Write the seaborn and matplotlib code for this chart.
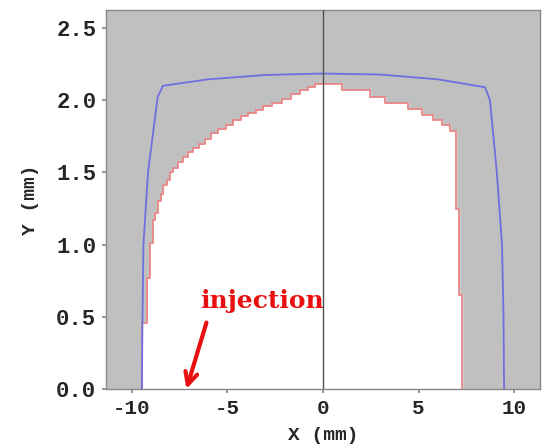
import matplotlib
matplotlib.use("Agg")
import matplotlib.pyplot as plt
import seaborn as sns
import pandas as pd

# red step boundary (left edge of each step, height)
red_x = [-9.45, -9.45, -9.22, -9.06, -8.90, -8.80, -8.65, -8.50, -8.35, -8.19,
         -8.00, -7.84, -7.60, -7.31, -7.05, -6.79, -6.50, -6.18, -5.85, -5.48,
         -5.10, -4.70, -4.30, -3.91, -3.50, -3.12, -2.65, -2.16, -1.70, -1.20,
         -0.80, -0.42, 1.00, 2.46, 3.25, 4.45, 5.17, 5.76, 6.21, 6.65,
         6.96, 7.13, 7.28]
red_y = [0.00, 0.46, 0.77, 1.01, 1.17, 1.22, 1.30, 1.35, 1.41, 1.45,
         1.50, 1.53, 1.57, 1.61, 1.64, 1.67, 1.70, 1.73, 1.77, 1.80,
         1.83, 1.86, 1.89, 1.91, 1.93, 1.96, 1.98, 2.01, 2.04, 2.07,
         2.09, 2.11, 2.07, 2.02, 1.98, 1.94, 1.90, 1.86, 1.83, 1.79,
         1.25, 0.65, 0.00]

# blue envelope
blue_x = [-9.48, -9.45, -9.40, -9.16, -8.66, -8.38, -6.0, -3.0, 0.0, 3.0, 6.0,
          8.48, 8.74, 9.10, 9.37, 9.45, 9.48]
blue_y = [0.00, 0.50, 1.00, 1.50, 2.02, 2.10, 2.145, 2.175, 2.185, 2.178, 2.145,
          2.09, 2.00, 1.50, 1.00, 0.50, 0.00]

xticks = [-10, -5, 0, 5, 10]
yticks = [0.0, 0.5, 1.0, 1.5, 2.0, 2.5]

sns.set_theme(style="ticks")
plt.rcParams['font.family'] = ['Liberation Mono', 'DejaVu Sans Mono']
plt.rcParams['font.weight'] = 'bold'

fig = plt.figure(figsize=(5.47, 4.48), dpi=100)
ax = fig.add_axes([106 / 547, 1 - 389 / 448, 434 / 547, 379 / 448])
ax.set_facecolor('#c0c0c0')

red = pd.DataFrame({'x': red_x, 'y': red_y})
blue = pd.DataFrame({'x': blue_x, 'y': blue_y})

ax.fill_between(red['x'], red['y'], step='post', color='white', zorder=1)
sns.lineplot(data=red, x='x', y='y', estimator=None, sort=False,
             drawstyle='steps-post', color='#e88585', lw=1.3, ax=ax, zorder=3)
sns.lineplot(data=blue, x='x', y='y', estimator=None, sort=False,
             color='#6f6fe0', lw=1.3, ax=ax, zorder=4)
ax.axvline(0, color='#505050', lw=1.0, zorder=5)

ax.annotate('', xy=(-7.15, 0.0), xytext=(-6.1, 0.46),
            arrowprops=dict(arrowstyle='->', color='#e81010', lw=3,
                            mutation_scale=22, shrinkA=0, shrinkB=0), zorder=6)
ax.text(-6.45, 0.61, 'injection', color='#e81010', fontsize=18,
        fontweight='bold', family=['DejaVu Serif'], va='center', ha='left')

ax.set_xlim(-11.36, 11.36)
ax.set_ylim(0, 2.625)
ax.set_xticks(xticks)
ax.set_yticks(yticks)
ax.set_xticklabels([str(t) for t in xticks])
ax.set_yticklabels([f"{t:.1f}" for t in yticks])
ax.tick_params(axis='y', labelsize=16, length=3, color='#888888', pad=4)
ax.tick_params(axis='x', labelsize=15, length=3, color='#888888', pad=4)
for s in ax.spines.values():
    s.set_color('#888888')
    s.set_linewidth(1.0)
ax.set_xlabel('X (mm)', fontsize=14, fontweight='bold', labelpad=7)
ax.set_ylabel('Y (mm)', fontsize=14, fontweight='bold', labelpad=12)
fig.savefig('out.png', dpi=100)
